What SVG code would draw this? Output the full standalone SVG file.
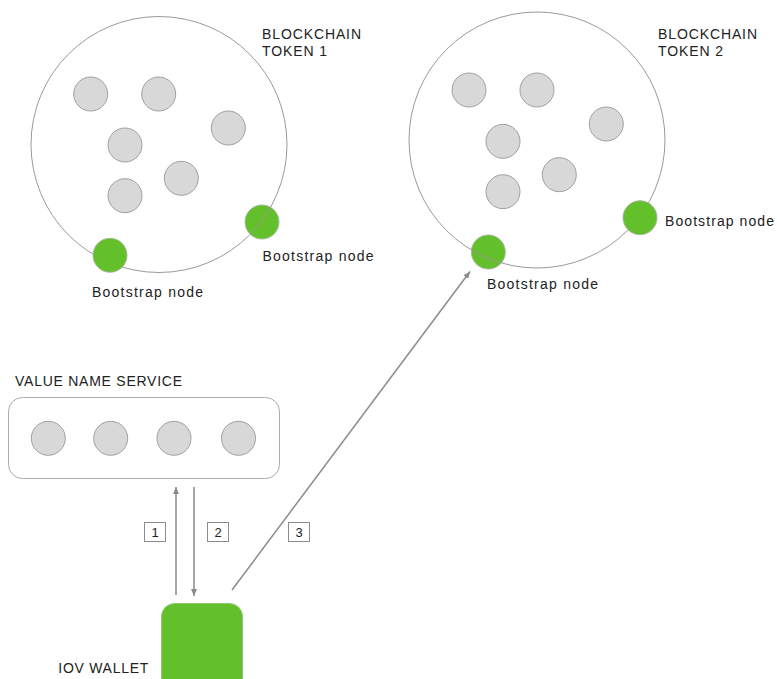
<svg xmlns="http://www.w3.org/2000/svg" width="777" height="679" viewBox="0 0 777 679">
<style>
.ring{fill:none;stroke:#9a9a9a;stroke-width:1}
.node{fill:#d8d8d8;stroke:#a0a0a0;stroke-width:1}
.boot{fill:#63c02b;stroke:#a8b8a0;stroke-width:1}
.t{font-family:"Liberation Sans",Arial,sans-serif;font-size:14px;fill:#222}
.conn{stroke:#8a8a8a;stroke-width:1.5;fill:none}
.lbl{fill:#fff;stroke:#8a8a8a;stroke-width:1}
.n{font-family:"Liberation Sans",Arial,sans-serif;font-size:13px;fill:#222;text-anchor:middle}
</style>
<defs>
<marker id="ah" markerUnits="userSpaceOnUse" markerWidth="8" markerHeight="6" refX="7" refY="3" orient="auto">
<path d="M0,0 L7,3 L0,6 z" fill="#8a8a8a"/>
</marker>
</defs>
<rect width="777" height="679" fill="#fff"/>
<g id="chain1">
<circle class="boot" cx="262" cy="222" r="17"/>
<circle class="ring" cx="159" cy="144.5" r="128"/>
<circle class="node" cx="90.7" cy="94" r="17"/>
<circle class="node" cx="158.7" cy="94" r="17"/>
<circle class="node" cx="228.3" cy="128" r="17"/>
<circle class="node" cx="125" cy="145" r="17"/>
<circle class="node" cx="181.3" cy="178.3" r="17"/>
<circle class="node" cx="125" cy="195.7" r="17"/>
<circle class="boot" cx="110" cy="255.3" r="17"/>
<text class="t" x="262" y="38.5" textLength="99" lengthAdjust="spacing">BLOCKCHAIN</text>
<text class="t" x="262" y="56" letter-spacing="0.9">TOKEN 1</text>
<text class="t" x="262.5" y="260.5" textLength="111" lengthAdjust="spacing">Bootstrap node</text>
<text class="t" x="92" y="297" textLength="111" lengthAdjust="spacing">Bootstrap node</text>
</g>
<g id="chain2">
<circle class="boot" cx="488.3" cy="252" r="17"/>
<circle class="ring" cx="537" cy="140" r="128"/>
<circle class="node" cx="469" cy="90" r="17"/>
<circle class="node" cx="537" cy="90" r="17"/>
<circle class="node" cx="606.3" cy="124" r="17"/>
<circle class="node" cx="503" cy="141.3" r="17"/>
<circle class="node" cx="559.3" cy="174.7" r="17"/>
<circle class="node" cx="503" cy="191.7" r="17"/>
<circle class="boot" cx="640" cy="217.7" r="17"/>
<text class="t" x="658" y="38.5" textLength="99" lengthAdjust="spacing">BLOCKCHAIN</text>
<text class="t" x="658" y="56" letter-spacing="0.9">TOKEN 2</text>
<text class="t" x="665" y="226" textLength="109" lengthAdjust="spacing">Bootstrap node</text>
<text class="t" x="487" y="288.5" textLength="111" lengthAdjust="spacing">Bootstrap node</text>
</g>
<g id="vns">
<text class="t" x="15" y="385.7" textLength="167" lengthAdjust="spacing">VALUE NAME SERVICE</text>
<rect x="8.5" y="397.5" width="271" height="81" rx="14" fill="#fff" stroke="#aaa" stroke-width="1"/>
<circle class="node" cx="48.3" cy="438.3" r="17"/>
<circle class="node" cx="110.7" cy="438.3" r="17"/>
<circle class="node" cx="174" cy="438.3" r="17"/>
<circle class="node" cx="238.5" cy="438.3" r="17"/>
</g>
<g id="wallet">
<rect x="161.5" y="603.5" width="81" height="100" rx="13" fill="#63c02b" stroke="#8fc870" stroke-width="1"/>
<text class="t" x="58.3" y="672.7" textLength="90" lengthAdjust="spacing">IOV WALLET</text>
</g>
<g id="connectors">
<line class="conn" x1="176" y1="595" x2="176" y2="487" marker-end="url(#ah)"/>
<line class="conn" x1="194" y1="487" x2="194" y2="596" marker-end="url(#ah)"/>
<line class="conn" x1="232" y1="590" x2="470" y2="271.5" marker-end="url(#ah)"/>
<rect class="lbl" x="144.5" y="522.5" width="21" height="19"/>
<text class="n" x="155" y="537">1</text>
<rect class="lbl" x="207.5" y="522.5" width="21" height="19"/>
<text class="n" x="218" y="537">2</text>
<rect class="lbl" x="288.5" y="522.5" width="21" height="19"/>
<text class="n" x="299" y="537">3</text>
</g>
</svg>
